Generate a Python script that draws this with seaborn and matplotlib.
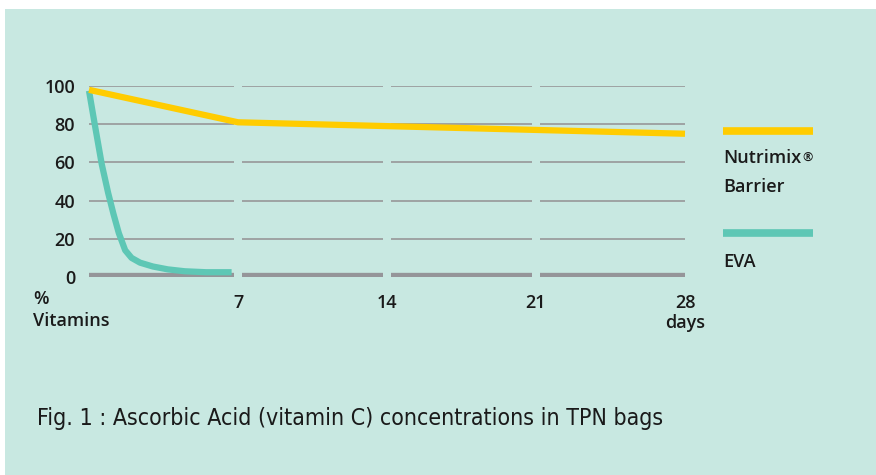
import matplotlib
matplotlib.use("Agg")
import matplotlib.pyplot as plt
import seaborn as sns
import pandas as pd
from matplotlib.patches import Rectangle
from matplotlib.lines import Line2D

# data
nutrimix_days = [0, 7, 14, 21, 28]
nutrimix_vals = [98, 81, 79, 77, 75]
eva_days = [0, 0.3, 0.6, 0.9, 1.15, 1.4, 1.7, 2.0, 2.4, 3.0, 3.7, 4.5, 5.5, 6.7]
eva_vals = [97.5, 78, 59, 44, 33, 23, 14, 10, 7.5, 5.5, 4, 3, 2.5, 2.5]
y_ticks = [0, 20, 40, 60, 80, 100]
x_ticks = [7, 14, 21, 28]
weeks = [(0, 6.8), (7.2, 13.8), (14.2, 20.8), (21.2, 28)]

BG = "#c8e8e1"
YELLOW = "#ffcc00"
TEAL = "#5ec7b5"
GRID = "#9ea3a3"
ZERO = "#959599"
TXT = "#1a1a1a"

sns.set_style("white")
plt.rcParams["font.family"] = ["Open Sans", "DejaVu Sans"]

W, H = 876, 475
fig = plt.figure(figsize=(W / 100, H / 100), dpi=100, facecolor="white")
fig.add_artist(Rectangle((5 / W, 0), 1, 1 - 9 / H, transform=fig.transFigure,
                         facecolor=BG, edgecolor="none", zorder=0))

def fx(px):
    return px / W

def fy(py):
    return 1 - py / H

ax = fig.add_axes([fx(89), fy(277), fx(685) - fx(89), fy(86) - fy(277)])
ax.set_facecolor("none")
ax.set_xlim(0, 28)
ax.set_ylim(0, 100)
for s in ax.spines.values():
    s.set_visible(False)

# segmented grid lines, one segment per week
for a, b in weeks:
    ax.hlines([v for v in y_ticks if v > 0], a, b, color=GRID, lw=1.4, zorder=1)
    ax.hlines(0, a, b, color=ZERO, lw=6, zorder=1)

df_n = pd.DataFrame({"day": nutrimix_days, "val": nutrimix_vals})
df_e = pd.DataFrame({"day": eva_days, "val": eva_vals})
sns.lineplot(data=df_e, x="day", y="val", ax=ax, color=TEAL, lw=4.5,
             zorder=2, clip_on=False, solid_capstyle="butt")
sns.lineplot(data=df_n, x="day", y="val", ax=ax, color=YELLOW, lw=4.5,
             zorder=3, clip_on=False, solid_capstyle="butt")

lab = dict(fontsize=13, fontweight="semibold", color=TXT)
ax.set_xlabel("")
ax.set_ylabel("")
ax.set_yticks(y_ticks)
ax.set_yticklabels([str(v) for v in y_ticks], **lab)
ax.set_xticks(x_ticks)
ax.set_xticklabels([str(v) for v in x_ticks], **lab)
ax.tick_params(axis="y", length=0, pad=10)
ax.tick_params(axis="x", length=0, pad=12)

fig.text(fx(33), fy(299), "%", ha="left", va="center", **lab)
fig.text(fx(33), fy(321), "Vitamins", ha="left", va="center", **lab)
fig.text(fx(685), fy(323), "days", ha="center", va="center", **lab)

# legend
fig.add_artist(Line2D([fx(723), fx(813)], [fy(131), fy(131)], color=YELLOW, lw=5.5,
                      transform=fig.transFigure, solid_capstyle="butt"))
fig.add_artist(Line2D([fx(723), fx(813)], [fy(233), fy(233)], color=TEAL, lw=5.5,
                      transform=fig.transFigure, solid_capstyle="butt"))
t = fig.text(fx(723), fy(158), "Nutrimix", ha="left", va="center", **lab)
ax.annotate("\u00ae", xy=(1, 0.92), xycoords=t, xytext=(1, 0), textcoords="offset points",
            ha="left", va="top", fontsize=9, fontweight="semibold", color=TXT,
            annotation_clip=False)
fig.text(fx(723), fy(187), "Barrier", ha="left", va="center", **lab)
fig.text(fx(723), fy(262), "EVA", ha="left", va="center", **lab)

fig.text(fx(37), fy(418), "Fig. 1 : Ascorbic Acid (vitamin C) concentrations in TPN bags",
         ha="left", va="center", fontsize=16.6, color=TXT,
         family=["DejaVu Sans"], fontstretch="condensed")

fig.savefig("out.png", dpi=100, facecolor="white")
